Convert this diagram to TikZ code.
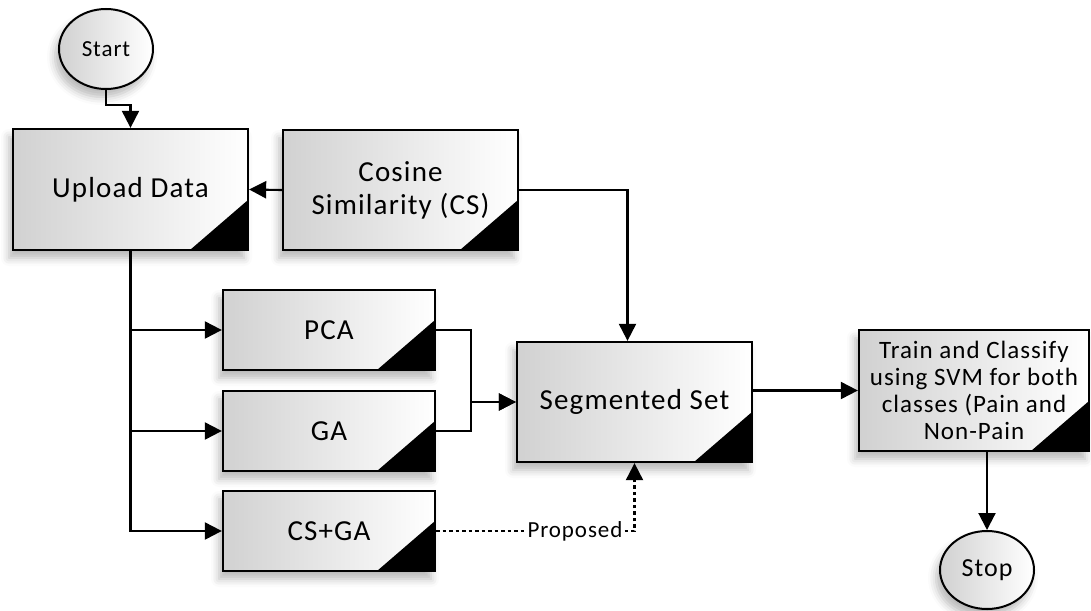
\documentclass[tikz,border=0pt]{standalone}
\usepackage{fontspec}
\setmainfont{Carlito}[LetterSpace=4]
\usetikzlibrary{arrows.meta,shapes.geometric,shadows.blur}
\tikzset{
  softshadow/.style={blur shadow={shadow xshift=-4pt,shadow yshift=-8pt,shadow opacity=28,shadow blur radius=8pt}},
  box/.style={draw=black, line width=2.3pt, rectangle, left color=black!18, right color=white,
    align=center, inner sep=2pt, softshadow,
    path picture={\fill[black] (path picture bounding box.south east) -- ++(-58pt,0pt) -- ++(58pt,50pt) -- cycle;}},
  term/.style={draw=black, ellipse, line width=2pt, left color=black!18, right color=white,
    inner sep=0pt, softshadow, minimum width=94pt, minimum height=80pt},
  conn/.style={draw, line width=2.1pt, -{Triangle[length=17pt,width=17pt]}},
  prop/.style={conn, dash pattern=on 3.5pt off 3pt},
  bigtxt/.style={font=\fontsize{29}{33}\selectfont},
}
\begin{document}
\begin{tikzpicture}[x=1pt,y=-1pt]
\useasboundingbox (0,0) rectangle (1091,610);

\node[term, font=\fontsize{23}{26}\selectfont] (start) at (106,49) {Start};
\node[box, bigtxt, minimum width=235pt, minimum height=121pt] (upload) at (130.5,189.5) {Upload Data};
\node[box, bigtxt, minimum width=235pt, minimum height=120pt] (cs) at (400.5,190) {Cosine\\Similarity (CS)};
\node[box, bigtxt, minimum width=212pt, minimum height=80pt] (pca) at (329,330) {PCA};
\node[box, bigtxt, minimum width=212pt, minimum height=80pt] (ga) at (329,431) {GA};
\node[box, bigtxt, minimum width=212pt, minimum height=80pt] (csga) at (329,531) {CS+GA};
\node[box, bigtxt, minimum width=235pt, minimum height=120pt] (seg) at (634.5,402) {Segmented Set};
\node[box, font=\fontsize{25}{27}\selectfont, minimum width=230pt, minimum height=121pt] (train) at (974,390.5)
  {Train and Classify\\using SVM for both\\classes (Pain and\\Non-Pain};
\node[term, font=\fontsize{26}{28}\selectfont, minimum height=78pt] (stop) at (987,570) {Stop};

\draw[conn] (start.south) -- ++(0,15) -| (upload.north);
\draw[conn] (cs.west) -- (upload.east);
\draw[conn] (cs.east) -| ([xshift=-7pt]seg.north);
\draw[conn] (upload.south) |- (pca.west);
\draw[conn] (upload.south) |- (ga.west);
\draw[conn] (upload.south) |- (csga.west);
\draw[conn] (pca.east) -- ++(35,0) |- (seg.west);
\draw[conn] (ga.east) -- ++(35,0) |- (seg.west);
\draw[prop] (csga.east) -| node[pos=0.35, fill=white, inner sep=1pt, font=\fontsize{23}{26}\selectfont] (plabel) {Proposed} (seg.south);
\draw[conn] (seg.east |- train.west) -- (train.west);
\draw[conn] (stop.north |- train.south) -- (stop.north);
\end{tikzpicture}
\end{document}
